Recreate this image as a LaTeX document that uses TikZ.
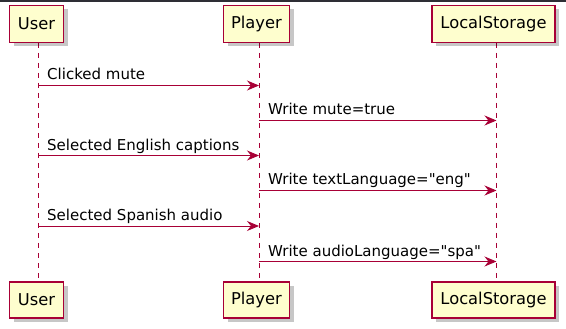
\documentclass[tikz,border=0pt]{standalone}
\usepackage{fontspec}
\setmainfont{DejaVu Sans}
\newfontfamily\lblfont{DejaVu Sans}
\usetikzlibrary{arrows.meta}
\definecolor{pfill}{HTML}{FEFECE}
\definecolor{pline}{HTML}{A80036}
\definecolor{topbar}{HTML}{2E2E35}
\begin{document}
\begin{tikzpicture}[x=1pt,y=-1pt,
  part/.style={draw=pline, line width=1.1pt, fill=pfill, minimum height=37pt, inner sep=0pt, font=\lblfont\fontsize{16.3}{18}\selectfont, text=black},
  shadowbox/.style={fill=black, opacity=0.22, inner sep=0pt, minimum height=37pt},
  life/.style={draw=pline, line width=0.8pt, dash pattern=on 5pt off 5pt},
  msg/.style={draw=pline, line width=0.9pt, -{Stealth[length=12pt,width=10pt,inset=4pt]}},
  lbl/.style={font=\lblfont\fontsize{15}{17}\selectfont, anchor=base west, inner sep=0pt, text=black}]
\useasboundingbox (0,0) rectangle (566,329);
\fill[white] (0,0) rectangle (566,329);
\fill[topbar] (0,0) rectangle (566,2.5);
% lifelines
\coordinate (uT) at (38.5,43); \coordinate (uB) at (38.5,282);
\coordinate (pT) at (259,43); \coordinate (pB) at (259,282);
\coordinate (lT) at (496.5,43); \coordinate (lB) at (496.5,282);
\draw[life] (uT) -- (uB);
\draw[life] (pT) -- (pB);
\draw[life] (lT) -- (lB);
% shadows
\foreach \cx/\w in {36.5/54, 256.5/66, 493.5/123}{
  \node[shadowbox, minimum width=\w pt] at (\cx+4,24+4) {};
  \node[shadowbox, minimum width=\w pt, minimum height=36pt] at (\cx+4,300+4) {};
}
% participants
\node[part, minimum width=54pt] (user) at (36.5,24) {User};
\node[part, minimum width=66pt] (player) at (256.5,24) {Player};
\node[part, minimum width=123pt] (ls) at (493.5,24) {LocalStorage};
\node[part, minimum width=54pt, minimum height=36pt] (user2) at (36.5,300) {User};
\node[part, minimum width=66pt, minimum height=36pt] (player2) at (256.5,300) {Player};
\node[part, minimum width=123pt, minimum height=36pt] (ls2) at (493.5,300) {LocalStorage};
% message points
\foreach \n/\y in {1/85.5,2/120.5,3/155.5,4/190.5,5/226,6/261.5}{
  \coordinate (u\n) at (38.5,\y);
  \coordinate (p\n) at (259,\y);
  \coordinate (l\n) at (496.5,\y);
}
\draw[msg] (u1) -- (p1);
\draw[msg] (p2) -- (l2);
\draw[msg] (u3) -- (p3);
\draw[msg] (p4) -- (l4);
\draw[msg] (u5) -- (p5);
\draw[msg] (p6) -- (l6);
\node[lbl] (t1) at (47,80) {Clicked mute};
\node[lbl] (t2) at (268,115) {Write mute=true};
\node[lbl] (t3) at (47,150) {Selected English captions};
\node[lbl] (t4) at (268,185) {Write textLanguage="eng"};
\node[lbl] (t5) at (47,220.5) {Selected Spanish audio};
\node[lbl] (t6) at (268,256) {Write audioLanguage="spa"};
\end{tikzpicture}
\end{document}
